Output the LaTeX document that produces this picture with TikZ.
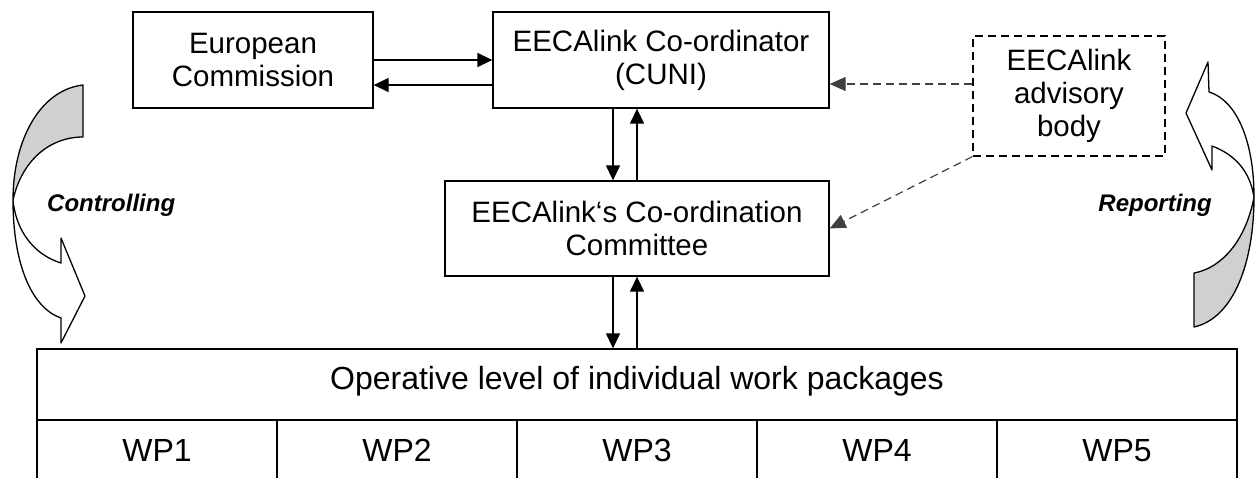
\documentclass[tikz,border=0pt]{standalone}
\usepackage{fontspec}
\setmainfont{Liberation Sans}
\usetikzlibrary{arrows.meta}
\definecolor{hintgrey}{RGB}{64,64,64}
\definecolor{backgrey}{RGB}{208,208,208}
\begin{document}
\begin{tikzpicture}[x=1pt,y=-1pt,
    box/.style={draw,line width=1.3pt,align=center,inner sep=0pt,
      font=\fontsize{29.5}{33}\selectfont},
    cell/.style={box,font=\fontsize{32}{36}\selectfont},
    link/.style={line width=1.3pt,-{Triangle[length=15pt,width=14pt]}},
    hint/.style={draw=hintgrey,line width=1.2pt,dash pattern=on 8pt off 5pt,
      -{Triangle[length=16pt,width=14pt]}},
    turn/.style={line width=1.3pt,line join=round},
    side/.style={font=\fontsize{24}{28}\selectfont\bfseries\itshape,inner sep=0pt}]
      \useasboundingbox (0,0) rectangle (1256,477);
      \clip (0,0) rectangle (1256,477);
      \node[box,minimum width=240pt,minimum height=96pt] (ec) at (253,60) {European\\Commission};
      \node[box,minimum width=336pt,minimum height=96pt] (coord) at (661,60) {EECAlink Co-ordinator\\(CUNI)};
      \node[box,minimum width=384pt,minimum height=95pt] (comm) at (637,228.5) {EECAlink‘s Co-ordination\\Committee};
      \node[box,dashed,dash pattern=on 8pt off 5pt,line width=1.2pt,minimum width=192pt,minimum height=120pt] (adv) at (1069,96) {EECAlink\\advisory\\body};
      \node[cell,text height=23pt,text depth=14pt,minimum width=1200pt,minimum height=71pt] (ops) at (637,384.5) {Operative level of individual work packages};
      \foreach \i in {1,...,5}
        \node[cell,text height=23pt,text depth=0pt,minimum width=240pt,minimum height=60pt] (wp\i) at ({-83+240*\i},450) {WP\i};
      \begin{scope}
        \draw[link] (ec.east) -- (coord.west);
        \draw[link] ([yshift=-25pt]coord.west) -- ([yshift=-25pt]ec.east);
        \draw[link] ([xshift=-48pt]coord.south) -- ([xshift=-48pt]coord.south |- comm.north);
        \draw[link] ([xshift=-24pt]coord.south |- comm.north) -- ([xshift=-24pt]coord.south);
        \draw[link] ([xshift=-24pt]comm.south) -- ([xshift=-24pt]comm.south |- ops.north);
        \draw[link] (comm.south |- ops.north) -- (comm.south);
        \draw[hint] ([yshift=12pt]adv.west) -- ([yshift=12pt]adv.west -| coord.east);
        \draw[hint] (adv.south west) -- (comm.east);
      \end{scope}
      % left curved arrow
      \filldraw[turn,fill=backgrey] (83,85) .. controls (40,90) and (13,140) .. (13,200)
        .. controls (22,160) and (50,137) .. (83,137) -- cycle;
      \filldraw[turn,fill=white] (13,200) .. controls (13,265) and (32,308) .. (61,318)
        -- (61,343) -- (85,296) -- (61,238) -- (61,263)
        .. controls (35,255) and (16,232) .. (13,200);
      % right curved arrow
      \filldraw[turn,fill=backgrey] (1194,327) .. controls (1234,318) and (1254,262) .. (1254,197)
        .. controls (1246,240) and (1222,268) .. (1194,273) -- cycle;
      \filldraw[turn,fill=white] (1254,197) .. controls (1254,140) and (1236,100) .. (1209,92)
        -- (1208,62) -- (1186,113) -- (1212,170) -- (1212,146)
        .. controls (1236,155) and (1250,172) .. (1254,197);
      \node[side,anchor=west] (ctrl) at (47,205) {Controlling};
      \node[side,anchor=east] (rep) at (1212,205) {Reporting};
    \end{tikzpicture}
\end{document}
